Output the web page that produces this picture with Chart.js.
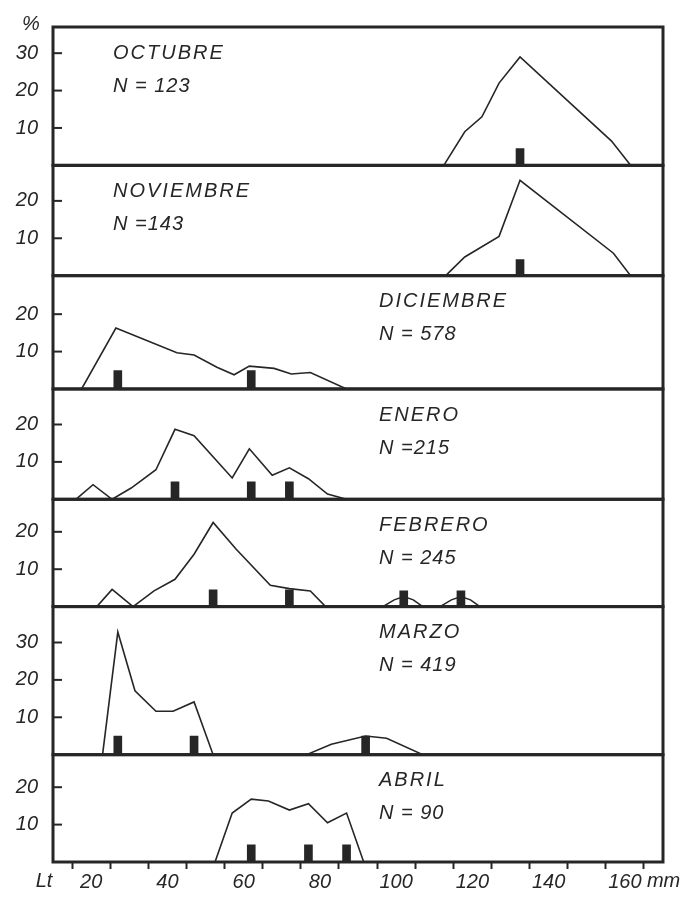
<!DOCTYPE html>
<html>
<head>
<meta charset="utf-8">
<title>Lt por mes</title>
<script src="https://cdn.jsdelivr.net/npm/chart.js@4/dist/chart.umd.min.js"></script>
<style>
  html, body { margin: 0; padding: 0; background: #fff; }
  canvas { display: block; }
</style>
</head>
<body>
<canvas id="lengthChart" width="684" height="899"></canvas>
<script>
// panels, top to bottom
const months = ['OCTUBRE', 'NOVIEMBRE', 'DICIEMBRE', 'ENERO', 'FEBRERO', 'MARZO', 'ABRIL'];
const nLabels = ['N = 123', 'N =143', 'N = 578', 'N =215', 'N = 245', 'N = 419', 'N = 90'];

// y range (%) of each panel and its tick labels
const yMax = [37, 29.5, 30.3, 29.5, 28.7, 39.6, 28.7];
const yTicks = [[10, 20, 30], [10, 20], [10, 20], [10, 20], [10, 20], [10, 20, 30], [10, 20]];
const xTickLabels = [20, 40, 60, 80, 100, 120, 140, 160];

// frequency polygons: Lt (mm) and %
const lenOct = [112.5, 118, 122.5, 127, 132.5, 156.5, 161.5];
const pctOct = [0, 9, 13, 22, 29, 6.5, 0];
const lenNov = [113, 118, 127, 132.5, 157, 161.5];
const pctNov = [0, 5, 10.5, 25.5, 6, 0];
const lenDic = [17.5, 26.5, 42.5, 47, 53, 57.5, 61.5, 68, 72.5, 77.5, 87];
const pctDic = [0, 16.3, 9.7, 9.1, 5.8, 3.8, 6.1, 5.5, 4, 4.4, 0];
const lenEne = [16, 20.5, 25.5, 30.5, 37, 42, 47, 57, 61.5, 67.5, 72, 77, 82, 87];
const pctEne = [0, 3.9, 0, 3, 7.9, 18.7, 17, 5.7, 13.5, 6.4, 8.4, 5.5, 1.4, 0];
const lenFeb = [21.5, 25.5, 31, 36.5, 42, 47, 52, 58, 67, 72, 77.5, 81.5, 96.5, 99.5, 102, 104.5, 107, 111.5, 114.5, 117, 119.5, 122];
const pctFeb = [0, 4.6, 0, 4.2, 7.3, 14, 22.5, 15.4, 5.7, 4.8, 4.2, 0, 0, 1.8, 2.7, 1.8, 0, 0, 1.8, 2.7, 1.8, 0];
const lenMar = [23, 27, 31.5, 37, 41.5, 47, 52, 76.5, 83, 92, 97.5, 107];
const pctMar = [0, 32.8, 17.1, 11.6, 11.6, 14.1, 0, 0, 2.8, 5, 4.4, 0];
const lenAbr = [52.5, 57, 62, 66.5, 72, 77, 82, 87, 91.5];
const pctAbr = [0, 13.1, 16.8, 16.3, 13.9, 15.6, 10.5, 13.1, 0];

// short thick marks (means)
const meanLenOct = [132.5], meanPctOct = [4.5];
const meanLenNov = [132.5], meanPctNov = [4.3];
const meanLenDic = [27, 62], meanPctDic = [4.9, 4.9];
const meanLenEne = [42, 62, 72], meanPctEne = [4.7, 4.7, 4.7];
const meanLenFeb = [52, 72, 102, 117], meanPctFeb = [4.5, 4.5, 4.2, 4.2];
const meanLenMar = [27, 47, 92], meanPctMar = [5, 5, 5];
const meanLenAbr = [62, 77, 87], meanPctAbr = [4.6, 4.6, 4.6];

const panels = [
  { len: lenOct, pct: pctOct, meanLen: meanLenOct, meanPct: meanPctOct },
  { len: lenNov, pct: pctNov, meanLen: meanLenNov, meanPct: meanPctNov },
  { len: lenDic, pct: pctDic, meanLen: meanLenDic, meanPct: meanPctDic },
  { len: lenEne, pct: pctEne, meanLen: meanLenEne, meanPct: meanPctEne },
  { len: lenFeb, pct: pctFeb, meanLen: meanLenFeb, meanPct: meanPctFeb },
  { len: lenMar, pct: pctMar, meanLen: meanLenMar, meanPct: meanPctMar },
  { len: lenAbr, pct: pctAbr, meanLen: meanLenAbr, meanPct: meanPctAbr },
];

const INK = '#262626';
const FAMILY = '"Liberation Sans", Arial, sans-serif';
const tickFont = { family: FAMILY, size: 20, style: 'italic' };

// where the month / N text sits in each panel (px from the panel's left edge)
const titleLeft = [60, 60, 326, 326, 326, 326, 326];

const datasets = [];
const scales = {
  x: {
    type: 'linear',
    min: 10,
    max: 170,
    offset: false,
    grid: { display: true, drawOnChartArea: false, drawTicks: true, tickLength: 7, tickColor: INK, tickWidth: 2 },
    border: { display: false },
    ticks: {
      stepSize: 10,
      autoSkip: false,
      maxRotation: 0,
      padding: 1,
      color: INK,
      font: tickFont,
      callback: (v) => (xTickLabels.includes(v) ? String(v) : ''),
    },
    afterFit: (s) => { s.height = 37; },
  },
};

panels.forEach((p, i) => {
  const yId = 'y' + i;
  scales[yId] = {
    type: 'linear',
    position: 'left',
    stack: 'months',
    stackWeight: yMax[i],
    weight: panels.length - i, // highest weight is placed on top
    min: 0,
    max: yMax[i],
    grid: { display: false, drawTicks: false },
    border: { display: false },
    afterBuildTicks: (s) => { s.ticks = yTicks[i].map((v) => ({ value: v })); },
    afterFit: (s) => { s.width = 53; },
    ticks: { padding: 15, color: INK, font: tickFont },
  };

  datasets.push({
    type: 'line',
    data: p.len.map((x, k) => ({ x, y: p.pct[k] })),
    yAxisID: yId,
    borderColor: INK,
    borderWidth: 1.6,
    pointRadius: 0,
    tension: 0,
    fill: false,
  });
  datasets.push({
    type: 'bar',
    data: p.meanLen.map((x, k) => ({ x, y: p.meanPct[k] })),
    yAxisID: yId,
    backgroundColor: INK,
    barThickness: 8,
    grouped: false,
  });
});

// boxes round every panel, inward y ticks, and the free texts
const panelFrame = {
  id: 'panelFrame',
  afterDatasetsDraw(chart) {
    const { ctx, chartArea } = chart;
    const left = chartArea.left;
    const width = chartArea.right - chartArea.left;
    ctx.save();
    ctx.strokeStyle = INK;
    ctx.fillStyle = INK;
    panels.forEach((p, i) => {
      const s = chart.scales['y' + i];
      ctx.lineWidth = 3;
      ctx.strokeRect(left, s.top, width, s.bottom - s.top);

      ctx.lineWidth = 2;
      s.ticks.forEach((t) => {
        const y = s.getPixelForValue(t.value);
        ctx.beginPath();
        ctx.moveTo(left, y);
        ctx.lineTo(left + 9, y);
        ctx.stroke();
      });

      ctx.font = 'italic 20px ' + FAMILY;
      ctx.textAlign = 'left';
      ctx.textBaseline = 'middle';
      ctx.letterSpacing = '2px';
      ctx.fillText(months[i], left + titleLeft[i], s.top + 26);
      ctx.letterSpacing = '1px';
      ctx.fillText(nLabels[i], left + titleLeft[i], s.top + 59);
      ctx.letterSpacing = '0px';
    });

    const x = chart.scales.x;
    ctx.font = 'italic 20px ' + FAMILY;
    ctx.textBaseline = 'middle';
    ctx.textAlign = 'center';
    ctx.fillText('%', left - 22, chartArea.top - 3);
    ctx.fillText('Lt', left - 9, x.top + 19);
    ctx.textAlign = 'left';
    ctx.fillText('mm', x.getPixelForValue(160) + 22, x.top + 19);
    ctx.restore();
  },
};

new Chart(document.getElementById('lengthChart').getContext('2d'), {
  type: 'line',
  data: { datasets },
  options: {
    responsive: false,
    animation: false,
    devicePixelRatio: 1,
    layout: { padding: { left: 0, right: 21, top: 22, bottom: 0 } },
    plugins: { legend: { display: false }, tooltip: { enabled: false } },
    scales,
  },
  plugins: [panelFrame],
});
</script>
</body>
</html>
